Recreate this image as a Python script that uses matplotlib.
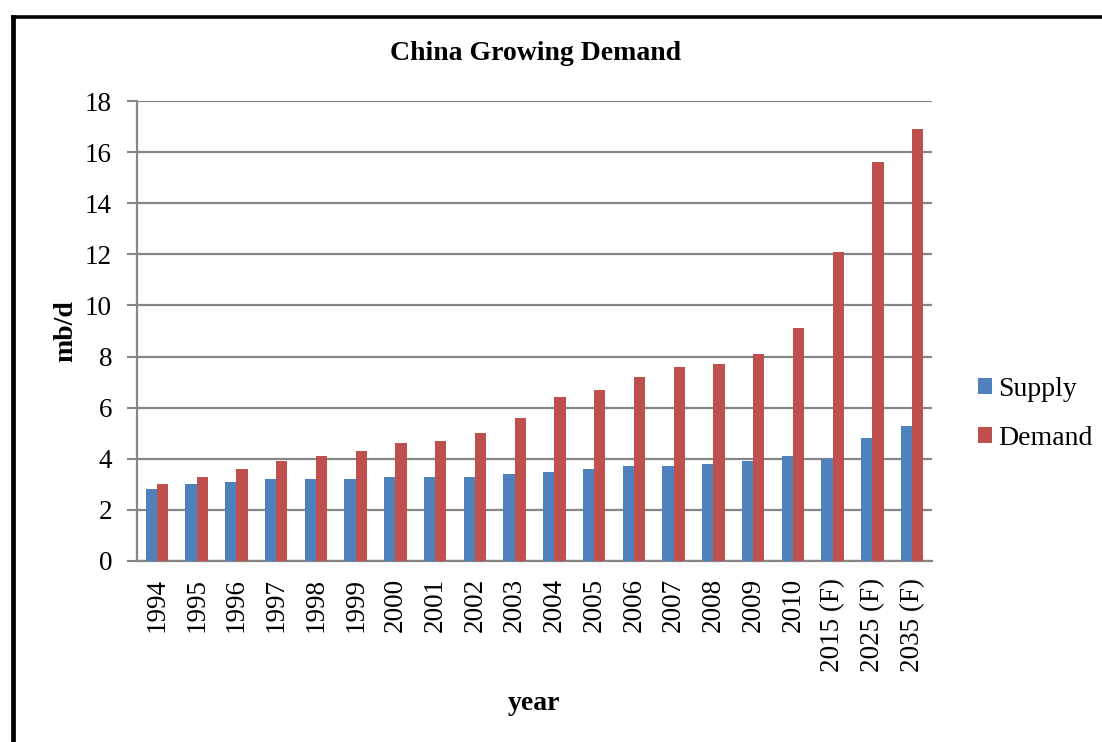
import matplotlib
matplotlib.use("Agg")
import matplotlib.pyplot as plt
import numpy as np
from matplotlib.lines import Line2D

years = ["1994", "1995", "1996", "1997", "1998", "1999", "2000", "2001", "2002",
         "2003", "2004", "2005", "2006", "2007", "2008", "2009", "2010",
         "2015 (F)", "2025 (F)", "2035 (F)"]
supply = [2.8, 3.0, 3.1, 3.2, 3.2, 3.2, 3.3, 3.3, 3.3, 3.4, 3.5, 3.6, 3.7, 3.7,
          3.8, 3.9, 4.1, 4.0, 4.8, 5.3]
demand = [3.0, 3.3, 3.6, 3.9, 4.1, 4.3, 4.6, 4.7, 5.0, 5.6, 6.4, 6.7, 7.2, 7.6,
          7.7, 8.1, 9.1, 12.1, 15.6, 16.9]
yticks = [0, 2, 4, 6, 8, 10, 12, 14, 16, 18]

plt.rcParams["font.family"] = ["Liberation Serif", "DejaVu Serif"]

fig = plt.figure(figsize=(11.02, 7.42), dpi=100)
ax = fig.add_axes([137 / 1102, 1 - 561 / 742, (932 - 137) / 1102, (561 - 101) / 742])

x = np.arange(len(years))
w = 0.285
blue = "#4F81BD"
red = "#C0504D"
ax.bar(x - w / 2, supply, w, color=blue, label="Supply", zorder=3)
ax.bar(x + w / 2, demand, w, color=red, label="Demand", zorder=3)

ax.set_xlim(-0.5, len(years) - 0.5)
ax.set_ylim(0, 18)
ax.set_yticks(yticks)
ax.set_yticklabels([str(t) for t in yticks], fontsize=19.5)
ax.set_xticks(x)
ax.set_xticklabels(years, rotation=90, fontsize=19.5)
ax.tick_params(axis="x", length=0, pad=12)
ax.tick_params(axis="y", length=7, width=1.5, color="#868686", pad=11)

ax.grid(axis="y", color="#868686", linewidth=1.6, zorder=0)
for s in ["top", "right"]:
    ax.spines[s].set_visible(False)
ax.spines["left"].set_color("#868686")
ax.spines["left"].set_linewidth(1.6)
ax.spines["bottom"].set_color("#868686")
ax.spines["bottom"].set_linewidth(1.6)

ax.set_ylabel("mb/d", fontsize=20, fontweight="bold", labelpad=5)
ax.set_xlabel("year", fontsize=20, fontweight="bold", labelpad=14)
fig.text(536 / 1102, 1 - 53 / 742, "China Growing Demand", fontsize=20,
         fontweight="bold", ha="center", va="center")

ax.legend(loc="center left", bbox_to_anchor=(970 / 1102, 1 - 414 / 742),
          bbox_transform=fig.transFigure, frameon=False, fontsize=20,
          handlelength=0.5, handleheight=0.5, handletextpad=0.2,
          labelspacing=0.85, borderaxespad=0, borderpad=0.3)

# page frame on the left and top edges
fig.add_artist(Line2D([12.5 / 1102, 12.5 / 1102], [0, 1 - 16.5 / 742],
                      transform=fig.transFigure, color="black", linewidth=3.4,
                      solid_capstyle="projecting"))
fig.add_artist(Line2D([12.5 / 1102, 1], [1 - 16.5 / 742, 1 - 16.5 / 742],
                      transform=fig.transFigure, color="black", linewidth=2.6,
                      solid_capstyle="projecting"))

fig.savefig("out.png", dpi=100)
